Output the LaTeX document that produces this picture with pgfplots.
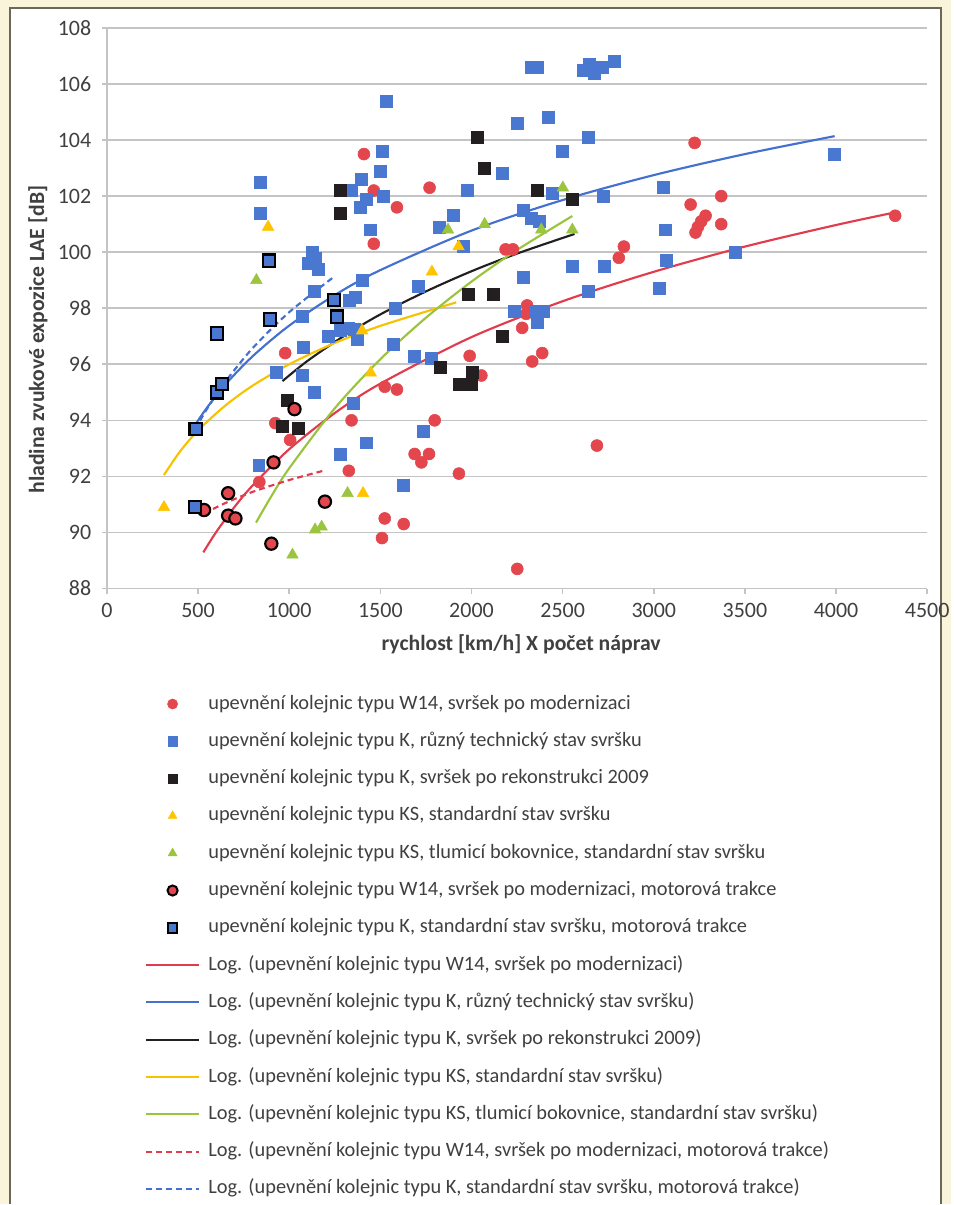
\documentclass[border=0pt]{standalone}
\usepackage{fontspec}
\setmainfont{Carlito}
\usepackage{pgfplots}
\pgfplotsset{compat=1.18}
\definecolor{cred}{HTML}{E4464D}
\definecolor{cblue}{HTML}{4A77CF}
\definecolor{cblack}{HTML}{231F20}
\definecolor{cyellow}{HTML}{FFC400}
\definecolor{cgreen}{HTML}{9CC53F}
\definecolor{lred}{HTML}{E03C4E}
\definecolor{lblue}{HTML}{4470D0}
\definecolor{lyellow}{HTML}{F7C200}
\definecolor{lgreen}{HTML}{9AC43C}
\definecolor{gridc}{HTML}{C4C4C4}
\definecolor{txt}{HTML}{404040}
\definecolor{bgc}{HTML}{FAF4DA}
\definecolor{framec}{HTML}{6B675A}
\pgfplotsset{
  legend image code/.code={\draw[mark repeat=2,mark phase=2,#1] plot coordinates {(0pt,0pt) (20pt,0pt) (40pt,0pt)};},
}
\begin{document}
\begin{tikzpicture}[x=0.75pt,y=0.75pt]
\fill[bgc] (0,0) rectangle (952,1205);
\fill[white] (10,0) rectangle (942,1197);
\draw[framec, line width=1.5pt] (10,0) -- (10,1197) -- (942,1197) -- (942,0);
\begin{axis}[
  at={(80.25pt,462pt)}, anchor=south west,
  scale only axis, width=615.75pt, height=420.75pt,
  xmin=0, xmax=4500, ymin=88, ymax=108,
  xtick={0,500,...,4500}, ytick={88,90,...,108},
  axis x line*=bottom, axis y line*=left,
  axis line style={gridc, line width=1.2pt},
  ymajorgrids, major grid style={gridc, line width=1.2pt},
  tick style={gridc, line width=1.2pt}, tick align=outside, major tick length=3.75pt,
  ticklabel style={font=\fontsize{16.5}{19}\selectfont, text=txt, /pgf/number format/assume math mode=true, /pgf/number format/1000 sep={}},
  yticklabel style={xshift=-4.5pt},
  xticklabel style={yshift=-4pt},
  xlabel={rychlost [km/h] X počet náprav},
  ylabel={hladina zvukové expozice LAE [dB]},
  label style={font=\fontsize{16.3}{19}\selectfont\bfseries, text=txt},
  xlabel style={at={(axis description cs:0.505,-0.0998)}, anchor=center},
  ylabel style={at={(axis description cs:-0.084,0.444)}, anchor=center},
  legend style={at={(axis description cs:0.0463,-0.19)}, anchor=north west, draw=none, fill=none,
    font=\fontsize{15.3}{18}\selectfont, text=txt, inner sep=0pt, outer sep=0pt,
    row sep=14.5pt, column sep=6pt,
    nodes={inner sep=0pt, text height=10.5pt, text depth=3pt}},
  legend cell align=left,
]
% W14
\addplot[only marks, mark=*, mark size=4.5pt, color=cred, forget plot] coordinates {
(1410,103.5) (1464,102.2) (1464,100.3) (1770,102.3) (1591,101.6) (978,96.4) (924,93.9) (1005,93.3)
(1342,94.0) (1327,92.2) (836,91.8) (1524,95.2) (1591,95.1) (1524,90.5) (1509,89.8) (1628,90.3)
(1798,94.0) (1688,92.8) (1767,92.8) (1725,92.5) (1931,92.1) (1990,96.3) (2054,95.6) (2187,100.1)
(2227,100.1) (2305,98.1) (2300,97.8) (2278,97.3) (2333,96.1) (2388,96.4) (2688,93.1) (2251,88.7)
(2836,100.2) (2808,99.8) (3224,103.9) (3370,102.0) (3202,101.7) (3284,101.3) (3260,101.1) (3242,100.9)
(3229,100.7) (3370,101.0) (4324,101.3)
};
% K
\addplot[only marks, mark=square*, mark size=4.5pt, color=cblue, forget plot] coordinates {
(1535,105.4) (1510,103.6) (1500,102.9) (1396,102.6) (1342,102.2) (1420,101.9) (1514,102.0) (1391,101.6)
(1442,100.8) (842,102.5) (842,101.4) (1125,100.0) (1145,99.8) (1105,99.6) (1160,99.4) (1400,99.0)
(1138,98.6) (1329,98.3) (1360,98.4) (1069,97.7) (1215,97.0) (1280,97.2) (1325,97.3) (1355,97.25)
(1374,96.9) (1078,96.6) (927,95.7) (1069,95.6) (1138,95.0) (1354,94.6) (1424,93.2) (1282,92.8)
(833,92.4) (2330,106.6) (2360,106.6) (2615,106.5) (2644,106.7) (2675,106.4) (2717,106.6) (2785,106.8)
(2249,104.6) (2419,104.8) (2638,104.1) (2498,103.6) (2169,102.8) (1975,102.2) (2443,102.1) (2721,102.0)
(3050,102.3) (2286,101.5) (2328,101.2) (2373,101.1) (1825,100.9) (1902,101.3) (1957,100.2) (3064,100.8)
(3068,99.7) (2553,99.5) (2730,99.5) (1706,98.8) (2286,99.1) (2638,98.6) (3032,98.7) (1584,98.0)
(2236,97.9) (2355,97.9) (2392,97.9) (2359,97.5) (1573,96.7) (1688,96.3) (1779,96.2) (1737,93.6)
(1628,91.7) (3992,103.5) (3449,100.0)
};
% K 2009
\addplot[only marks, mark=square*, mark size=4.5pt, color=cblack, forget plot] coordinates {
(1282,102.2) (1282,101.4) (2030,104.1) (2072,103.0) (2359,102.2) (2555,101.9) (1980,98.5) (2118,98.5)
(2169,97.0) (1831,95.9) (1935,95.3) (1999,95.3) (2004,95.7) (991,94.7) (960,93.8) (1047,93.7)
};
% KS standard
\addplot[only marks, mark=triangle*, mark size=5pt, color=cyellow, forget plot] coordinates {
(884,100.9) (1400,97.2) (1447,95.7) (313,90.9) (1405,91.4) (1929,100.2) (1783,99.3)
};
% KS tlumici
\addplot[only marks, mark=triangle*, mark size=5pt, color=cgreen, forget plot] coordinates {
(820,99.0) (1320,91.4) (1142,90.1) (1178,90.2) (1018,89.2) (2501,102.3) (2383,100.8) (2072,101.0)
(1871,100.8) (2553,100.8)
};
% W14 motor
\addplot[only marks, mark=*, mark size=4.6pt, mark options={fill=cred, draw=black, line width=1.6pt}, forget plot] coordinates {
(1029,94.4) (914,92.5) (665,91.4) (533,90.8) (665,90.6) (705,90.5) (1196,91.1) (902,89.6)
};
% K motor
\addplot[only marks, mark=square*, mark size=4.6pt, mark options={fill=cblue, draw=black, line width=1.6pt}, forget plot] coordinates {
(605,97.1) (896,97.6) (890,99.7) (1245,98.3) (1262,97.7) (605,95.0) (633,95.3) (487,93.7) (484,90.9)
};
% trend lines
\addplot[lred, line width=1.6pt, smooth, forget plot] coordinates {
(529,89.29) (600,90.02) (700,90.91) (800,91.68) (1000,92.97) (1250,94.26) (1500,95.31) (2000,96.97)
(2500,98.25) (3000,99.30) (3500,100.20) (4000,100.97) (4324,101.42)
};
\addplot[lblue, line width=1.6pt, smooth, forget plot] coordinates {
(484,93.84) (550,94.46) (650,95.28) (800,96.29) (1000,97.38) (1250,98.47) (1500,99.36) (2000,100.77)
(2500,101.86) (3000,102.75) (3500,103.50) (3992,104.14)
};
\addplot[cblack, line width=1.6pt, smooth, forget plot] coordinates {
(963,95.40) (1100,96.12) (1300,97.01) (1500,97.78) (1750,98.60) (2000,99.32) (2250,99.95) (2565,100.65)
};
\addplot[lyellow, line width=1.6pt, smooth, forget plot] coordinates {
(313,92.05) (400,92.88) (500,93.64) (650,94.53) (800,95.24) (1000,96.00) (1250,96.76) (1500,97.37) (1916,98.21)
};
\addplot[lgreen, line width=1.6pt, smooth, forget plot] coordinates {
(818,90.35) (900,91.27) (1000,92.29) (1250,94.43) (1500,96.18) (1750,97.66) (2000,98.95) (2250,100.08) (2553,101.29)
};
\addplot[lred, line width=1.6pt, dash pattern=on 4.5pt off 3pt, smooth, forget plot] coordinates {
(533,90.68) (650,91.05) (800,91.45) (1000,91.87) (1187,92.20)
};
\addplot[lblue, line width=1.6pt, dash pattern=on 4.5pt off 3pt, smooth, forget plot] coordinates {
(484,93.68) (550,94.42) (650,95.38) (800,96.58) (1000,97.86) (1251,99.15)
};
% legend
\addlegendimage{only marks, mark=*, mark size=3.8pt, color=cred}
\addlegendentry{upevnění kolejnic typu W14, svršek po modernizaci}
\addlegendimage{only marks, mark=square*, mark size=3.6pt, color=cblue}
\addlegendentry{upevnění kolejnic typu K, různý technický stav svršku}
\addlegendimage{only marks, mark=square*, mark size=3.6pt, color=cblack}
\addlegendentry{upevnění kolejnic typu K, svršek po rekonstrukci 2009}
\addlegendimage{only marks, mark=triangle*, mark size=3.8pt, color=cyellow}
\addlegendentry{upevnění kolejnic typu KS, standardní stav svršku}
\addlegendimage{only marks, mark=triangle*, mark size=3.8pt, color=cgreen}
\addlegendentry{upevnění kolejnic typu KS, tlumicí bokovnice, standardní stav svršku}
\addlegendimage{only marks, mark=*, mark size=3.8pt, mark options={fill=cred, draw=black, line width=1.5pt}}
\addlegendentry{upevnění kolejnic typu W14, svršek po modernizaci, motorová trakce}
\addlegendimage{only marks, mark=square*, mark size=3.6pt, mark options={fill=cblue, draw=black, line width=1.5pt}}
\addlegendentry{upevnění kolejnic typu K, standardní stav svršku, motorová trakce}
\addlegendimage{lred, line width=1.6pt}
\addlegendentry{Log. (upevnění kolejnic typu W14, svršek po modernizaci)}
\addlegendimage{lblue, line width=1.6pt}
\addlegendentry{Log. (upevnění kolejnic typu K, různý technický stav svršku)}
\addlegendimage{cblack, line width=1.6pt}
\addlegendentry{Log. (upevnění kolejnic typu K, svršek po rekonstrukci 2009)}
\addlegendimage{lyellow, line width=1.6pt}
\addlegendentry{Log. (upevnění kolejnic typu KS, standardní stav svršku)}
\addlegendimage{lgreen, line width=1.6pt}
\addlegendentry{Log. (upevnění kolejnic typu KS, tlumicí bokovnice, standardní stav svršku)}
\addlegendimage{lred, line width=1.6pt, dash pattern=on 4.5pt off 3pt}
\addlegendentry{Log. (upevnění kolejnic typu W14, svršek po modernizaci, motorová trakce)}
\addlegendimage{lblue, line width=1.6pt, dash pattern=on 4.5pt off 3pt}
\addlegendentry{Log. (upevnění kolejnic typu K, standardní stav svršku, motorová trakce)}
\end{axis}
\end{tikzpicture}
\end{document}
